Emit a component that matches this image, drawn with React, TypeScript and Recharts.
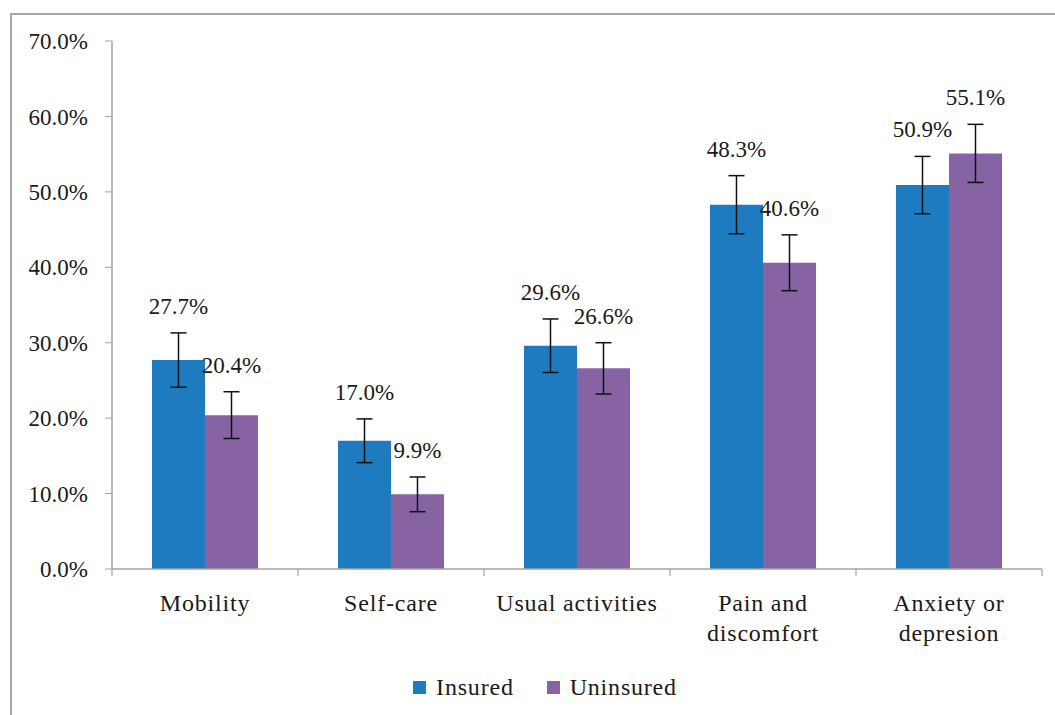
import { BarChart, Bar, XAxis, YAxis, ErrorBar, LabelList, Legend } from "recharts";

const categories = ["Mobility", "Self-care", "Usual activities", "Pain and discomfort", "Anxiety or depresion"];
// how the category names wrap under the axis
const categoryLines = [["Mobility"], ["Self-care"], ["Usual activities"], ["Pain and", "discomfort"], ["Anxiety or", "depresion"]];
const insured = [27.7, 17.0, 29.6, 48.3, 50.9];
const uninsured = [20.4, 9.9, 26.6, 40.6, 55.1];
const insuredErr = [3.6, 2.9, 3.55, 3.85, 3.8];
const uninsuredErr = [3.1, 2.3, 3.4, 3.7, 3.85];
const yTicks = [0, 10, 20, 30, 40, 50, 60, 70];

const BLUE = "#1F7BBF";
const PURPLE = "#8763A4";
const AXIS = "#a3a3a3";
const FONT = "Liberation Serif, DejaVu Serif, Times New Roman, serif";

const data = categories.map((name, i) => ({
  name,
  Insured: insured[i],
  Uninsured: uninsured[i],
  insErr: insuredErr[i],
  unErr: uninsuredErr[i],
}));

function CategoryTick(props: any) {
  const { x, y, payload, width, visibleTicksCount, index } = props;
  const lines = categoryLines[index] || [payload.value];
  // half band: tick marks go on the category boundaries like Excel
  const half = payload.offset > 0 ? payload.offset : width / (2 * visibleTicksCount);
  const last = index === visibleTicksCount - 1;
  return (
    <g>
      <line x1={x - half} x2={x - half} y1={y} y2={y + 7} stroke={AXIS} strokeWidth={1.2} />
      {last && <line x1={x + half} x2={x + half} y1={y} y2={y + 7} stroke={AXIS} strokeWidth={1.2} />}
      <text x={x} y={y + 42} textAnchor="middle" fill="#1a1a1a" fontFamily={FONT} fontSize={24} letterSpacing={0.8}>
        {lines.map((l: string, k: number) => (
          <tspan key={k} x={x} dy={k === 0 ? 0 : 30}>
            {l}
          </tspan>
        ))}
      </text>
    </g>
  );
}

// label sits above the top of the error bar
function makeLabel(errs: number[]) {
  return (props: any) => {
    const vb = props.viewBox || props;
    const { x, y, width, height } = vb;
    const v = Number(props.value);
    const err = errs[props.index] || 0;
    const top = y - (err * height) / v;
    return (
      <text x={x + width / 2} y={top - 27} dy="0.35em" textAnchor="middle" fill="#1a1a1a" fontFamily={FONT} fontSize={23}>
        {v.toFixed(1)}%
      </text>
    );
  };
}

function LegendBox(props: any) {
  const items = props.payload || [];
  return (
    <div style={{ display: "flex", justifyContent: "center", alignItems: "center", gap: 33, height: 36, marginLeft: 48 }}>
      {items.map((it: any) => (
        <div key={it.value} style={{ display: "flex", alignItems: "center" }}>
          <span style={{ width: 13, height: 13, background: it.color, display: "inline-block", marginRight: 10 }} />
          <span style={{ fontFamily: FONT, fontSize: 24, letterSpacing: 0.8, color: "#1a1a1a" }}>{it.value}</span>
        </div>
      ))}
    </div>
  );
}

export default function App() {
  return (
    <div style={{ position: "fixed", left: 0, top: 0, width: 1055, height: 715, overflow: "hidden", background: "#fff" }}>
      <div style={{ position: "absolute", left: 10, top: 13, width: 1200, height: 900, border: "2px solid #a6a6a6" }} />
      <div style={{ position: "absolute", left: 0, top: 0 }}>
        <BarChart
          width={1090}
          height={715}
          data={data}
          margin={{ top: 41, right: 48, bottom: 10, left: 0 }}
          barCategoryGap="21.5%"
          barGap={0}
        >
          <XAxis
            dataKey="name"
            height={100}
            interval={0}
            tickLine={false}
            tickSize={0}
            tickMargin={0}
            axisLine={{ stroke: AXIS, strokeWidth: 1.5 }}
            tick={<CategoryTick />}
          />
          <YAxis
            width={112}
            domain={[0, 70]}
            ticks={yTicks}
            tickFormatter={(v) => `${Number(v).toFixed(1)}%`}
            axisLine={{ stroke: AXIS, strokeWidth: 1.5 }}
            tickLine={{ stroke: AXIS }}
            tickSize={7}
            tickMargin={17}
            tick={{ fill: "#1a1a1a", fontFamily: FONT, fontSize: 23 }}
          />
          <Legend verticalAlign="bottom" height={36} content={<LegendBox />} />
          <Bar dataKey="Insured" fill={BLUE} isAnimationActive={false}>
            <ErrorBar dataKey="insErr" width={8} stroke="#111" strokeWidth={1.5} direction="y" isAnimationActive={false} />
            <LabelList dataKey="Insured" content={makeLabel(insuredErr)} />
          </Bar>
          <Bar dataKey="Uninsured" fill={PURPLE} isAnimationActive={false}>
            <ErrorBar dataKey="unErr" width={8} stroke="#111" strokeWidth={1.5} direction="y" isAnimationActive={false} />
            <LabelList dataKey="Uninsured" content={makeLabel(uninsuredErr)} />
          </Bar>
        </BarChart>
      </div>
    </div>
  );
}
